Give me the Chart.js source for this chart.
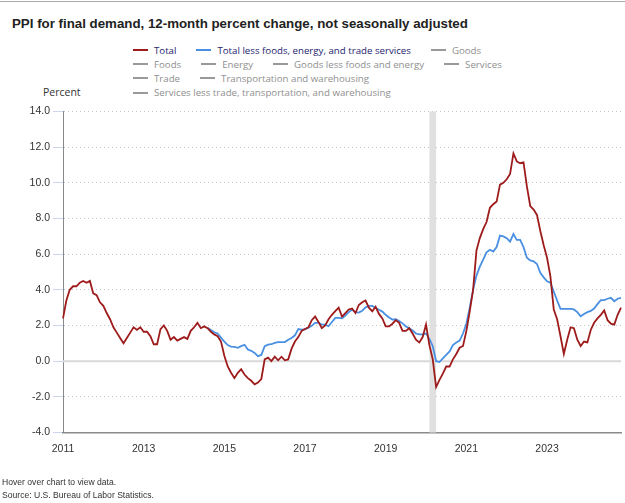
<!DOCTYPE html>
<html>
<head>
<meta charset="utf-8">
<script src="https://cdn.jsdelivr.net/npm/chart.js@4.4.1/dist/chart.umd.min.js"></script>
<style>
  body { margin: 0; width: 625px; height: 503px; position: relative; overflow: hidden; background: #fff; }
  #borde { position: absolute; left: 0; top: 1px; width: 625px; height: 1px; background: #aaa; }
  #titulo { position: absolute; left: 12px; top: 16px; font: bold 13.3px "Liberation Sans", Arial, sans-serif; color: #222; white-space: nowrap; }
  #leyenda { position: absolute; left: 133px; top: 43px; width: 400px; display: flex; flex-wrap: wrap; font: 9.7px "Open Sans", sans-serif; }
  .item { display: flex; align-items: center; height: 14.2px; margin-right: 20px; white-space: nowrap; }
  .item .linea { width: 15px; height: 2px; margin-right: 6px; }
  #etiqueta-y { position: absolute; left: 43px; top: 85px; font: 10.5px "Open Sans", sans-serif; color: #333; }
  #grafica { position: absolute; left: 0; top: 0; }
  #notas { position: absolute; left: 2px; top: 476px; font: 8.6px "Liberation Sans", Arial, sans-serif; color: #333; line-height: 13px; }
</style>
</head>
<body>
<div id="borde"></div>
<div id="titulo">PPI for final demand, 12-month percent change, not seasonally adjusted</div>
<div id="leyenda"></div>
<div id="etiqueta-y">Percent</div>
<canvas id="grafica" width="625" height="503"></canvas>
<div id="notas">Hover over chart to view data.<br>Source: U.S. Bureau of Labor Statistics.</div>

<script>
// Meses de la serie (enero 2011 a noviembre 2024)
const meses = [];
for (let anio = 2011; anio <= 2024; anio++) {
    for (let mes = 1; mes <= 12; mes++) {
        if (anio === 2024 && mes > 11) break;
        meses.push(anio + '-' + String(mes).padStart(2, '0'));
    }
}

// Total, cambio porcentual a 12 meses (una fila por año)
const total = [
    2.4, 3.4, 4.0, 4.2, 4.2, 4.4, 4.5, 4.4, 4.5, 3.8, 3.7, 3.3,
    3.1, 2.7, 2.35, 1.9, 1.6, 1.3, 1.0, 1.3, 1.6, 1.9, 1.75, 1.9,
    1.65, 1.65, 1.4, 0.95, 0.95, 1.8, 2.0, 1.7, 1.2, 1.35, 1.15, 1.25,
    1.35, 1.25, 1.7, 1.9, 2.15, 1.85, 1.95, 1.85, 1.65, 1.5, 1.4, 1.1,
    0.3, -0.3, -0.65, -0.95, -0.65, -0.45, -0.75, -0.95, -1.1, -1.3, -1.2, -1.0,
    0.1, 0.2, 0.0, 0.25, 0.05, 0.25, 0.05, 0.1, 0.7, 1.1, 1.35, 1.7,
    1.8, 1.9, 2.3, 2.5, 2.2, 1.85, 2.0, 2.35, 2.6, 2.8, 3.0, 2.5,
    2.7, 2.9, 2.95, 2.7, 3.15, 3.3, 3.4, 3.0, 2.8, 3.05, 2.65, 2.4,
    1.95, 1.95, 2.1, 2.3, 2.15, 1.7, 1.7, 1.85, 1.55, 1.2, 1.05, 1.35,
    2.05, 0.9, 0.1, -1.45, -1.05, -0.7, -0.3, -0.3, 0.1, 0.4, 0.75, 0.85,
    1.7, 2.8, 4.0, 6.2, 6.9, 7.4, 7.8, 8.6, 8.8, 8.95, 9.9, 10.0,
    10.2, 10.5, 11.65, 11.2, 11.1, 11.15, 9.8, 8.7, 8.5, 8.2, 7.3, 6.5,
    5.8, 4.75, 2.9, 2.35, 1.4, 0.4, 1.2, 1.9, 1.85, 1.2, 0.85, 1.1,
    1.05, 1.75, 2.15, 2.4, 2.6, 2.85, 2.3, 2.1, 2.05, 2.6, 3.0
];

// Total menos alimentos, energía y comercio (empieza en agosto 2014)
const inicioTotalMenos = '2014-08';
const totalMenos = [
    1.87, 1.75, 1.62, 1.55, 1.32,
    1.1, 0.9, 0.82, 0.8, 0.75, 0.84, 0.92, 0.65, 0.58, 0.46, 0.28, 0.35,
    0.84, 0.93, 0.95, 1.03, 1.07, 1.07, 1.07, 1.2, 1.3, 1.45, 1.8, 1.77,
    1.78, 1.88, 1.98, 2.15, 2.15, 2.05, 2.05, 1.96, 2.2, 2.43, 2.43, 2.4,
    2.55, 2.75, 2.88, 2.75, 2.72, 2.82, 3.02, 3.1, 3.1, 2.98, 2.88, 2.78,
    2.6, 2.45, 2.33, 2.35, 2.25, 2.12, 1.95, 1.85, 1.72, 1.55, 1.5, 1.5,
    1.55, 1.25, 0.84, 0.0, -0.05, 0.15, 0.35, 0.55, 0.9, 1.05, 1.15, 1.55,
    2.1, 3.0, 4.0, 4.8, 5.3, 5.7, 6.1, 6.25, 6.15, 6.4, 7.04, 7.0,
    6.9, 6.7, 7.13, 6.8, 6.8, 6.4, 5.8, 5.65, 5.6, 5.45, 4.95, 4.7,
    4.48, 4.4, 3.9, 3.4, 2.93, 2.93, 2.93, 2.93, 2.9, 2.75, 2.52, 2.65,
    2.75, 2.82, 2.95, 3.2, 3.42, 3.42, 3.5, 3.55, 3.36, 3.5, 3.55
];

// Recesión (sombreado gris)
const recesion = ['2020-02', '2020-04'];

// Leyenda: nombres, colores y si la serie está visible
const nombresSeries = [
    'Total', 'Total less foods, energy, and trade services', 'Goods',
    'Foods', 'Energy', 'Goods less foods and energy', 'Services',
    'Trade', 'Transportation and warehousing',
    'Services less trade, transportation, and warehousing'
];
const coloresSeries = ['#9e1b1b', '#4a90e2', '#999', '#999', '#999', '#999', '#999', '#999', '#999', '#999'];
const seriesVisibles = [true, true, false, false, false, false, false, false, false, false];

// Ticks del eje Y
const ticksY = { min: -4, max: 14, paso: 2 };

// Completar la serie que empieza tarde con nulls
const desfase = meses.indexOf(inicioTotalMenos);
const totalMenosCompleto = new Array(desfase).fill(null).concat(totalMenos);

// Armar la leyenda en HTML
const leyenda = document.getElementById('leyenda');
nombresSeries.forEach((nombre, i) => {
    const item = document.createElement('div');
    item.className = 'item';
    const linea = document.createElement('span');
    linea.className = 'linea';
    linea.style.background = coloresSeries[i];
    const texto = document.createElement('span');
    texto.textContent = nombre;
    texto.style.color = seriesVisibles[i] ? '#23236e' : '#8f8f8f';
    item.appendChild(linea);
    item.appendChild(texto);
    leyenda.appendChild(item);
});

// Plugin: sombreado de recesión y línea del cero
const fondoPlugin = {
    id: 'fondo',
    beforeDatasetsDraw(chart) {
        const { ctx, chartArea, scales } = chart;
        const x1 = scales.x.getPixelForValue(meses.indexOf(recesion[0]));
        const x2 = scales.x.getPixelForValue(meses.indexOf(recesion[1]));
        const y0 = scales.y.getPixelForValue(0);
        ctx.save();
        ctx.fillStyle = '#e0e0e0';
        ctx.fillRect(x1, chartArea.top, x2 - x1, chartArea.bottom - chartArea.top);
        ctx.strokeStyle = '#d9d9d9';
        ctx.lineWidth = 2;
        ctx.beginPath();
        ctx.moveTo(chartArea.left, y0);
        ctx.lineTo(chartArea.right, y0);
        ctx.stroke();
        ctx.restore();
    }
};

const fuenteEjes = { family: '"Liberation Sans", Arial, sans-serif', size: 10.5 };

let grafica = new Chart(document.getElementById('grafica').getContext('2d'), {
    type: 'line',
    data: {
        labels: meses,
        datasets: [{
            label: nombresSeries[0],
            data: total,
            borderColor: coloresSeries[0],
            borderWidth: 1.8,
            pointRadius: 0,
            tension: 0
        }, {
            label: nombresSeries[1],
            data: totalMenosCompleto,
            borderColor: coloresSeries[1],
            borderWidth: 1.8,
            pointRadius: 0,
            tension: 0,
            spanGaps: false
        }]
    },
    options: {
        responsive: false,
        animation: false,
        layout: { padding: { top: 111.5, right: 4, bottom: 40.5, left: 0 } },
        plugins: { legend: { display: false }, tooltip: { enabled: false } },
        scales: {
            x: {
                grid: { display: false },
                border: { color: '#8a8a8a', width: 1.5 },
                ticks: {
                    autoSkip: false,
                    maxRotation: 0,
                    padding: 2,
                    color: '#333',
                    font: fuenteEjes,
                    callback: function (valor) {
                        const etiqueta = this.getLabelForValue(valor);
                        const [anio, mes] = etiqueta.split('-');
                        return (mes === '01' && Number(anio) % 2 === 1) ? anio : '';
                    }
                },
                afterFit: (escala) => { escala.height = 30; }
            },
            y: {
                min: ticksY.min,
                max: ticksY.max,
                ticks: {
                    stepSize: ticksY.paso,
                    padding: 3,
                    color: '#333',
                    font: fuenteEjes,
                    callback: (v) => v.toFixed(1)
                },
                grid: {
                    color: (c) => (c.tick && c.tick.value === 0) ? 'rgba(0,0,0,0)' : '#c4c4c4',
                    tickColor: '#ccd6eb',
                    tickLength: 10,
                    lineWidth: 1
                },
                border: { color: '#888', width: 1, dash: [1, 3] },
                afterFit: (escala) => { escala.width = 63; }
            }
        }
    },
    plugins: [fondoPlugin]
});
</script>
</body>
</html>
